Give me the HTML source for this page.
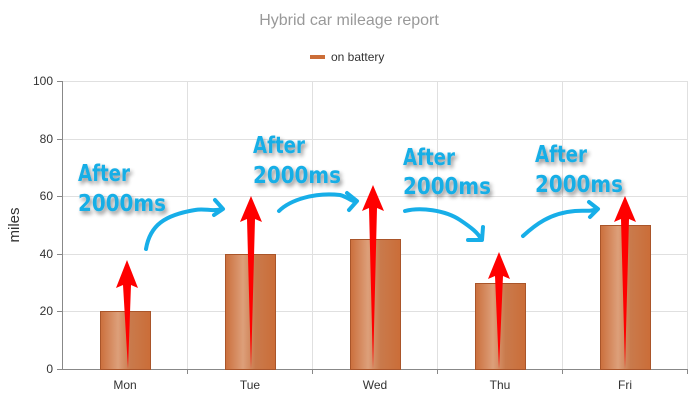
<!DOCTYPE html>
<html><head><meta charset="utf-8"><style>
html,body{margin:0;padding:0;background:#fff}
svg{display:block}
</style></head><body>
<svg width="699" height="400" viewBox="0 0 699 400" xmlns="http://www.w3.org/2000/svg" font-family="Liberation Sans, sans-serif">
<defs>
<linearGradient id="bg" x1="0" x2="1" y1="0" y2="0">
<stop offset="0" stop-color="#cb6f3c"/>
<stop offset="0.35" stop-color="#dd9f7a"/>
<stop offset="0.6" stop-color="#c97a4c"/>
<stop offset="1" stop-color="#cb6d38"/>
</linearGradient>
<filter id="sh" x="-20%" y="-20%" width="140%" height="140%"><feGaussianBlur in="SourceAlpha" stdDeviation="2"/><feOffset dx="2" dy="3"/><feComponentTransfer><feFuncA type="linear" slope="0.45"/></feComponentTransfer><feMerge><feMergeNode/><feMergeNode in="SourceGraphic"/></feMerge></filter>
</defs>
<text x="349" y="25" text-anchor="middle" font-size="16" fill="#999">Hybrid car mileage report</text>
<rect x="310" y="55" width="15" height="4" fill="#cb6d38"/>
<text x="331" y="61" font-size="12" fill="#333">on battery</text>
<g stroke="#e0e0e0" stroke-width="1">
<line x1="62" y1="81.5" x2="688" y2="81.5"/><line x1="62" y1="139.5" x2="688" y2="139.5"/><line x1="62" y1="196.5" x2="688" y2="196.5"/><line x1="62" y1="254.5" x2="688" y2="254.5"/><line x1="62" y1="311.5" x2="688" y2="311.5"/>
<line x1="187.5" y1="81" x2="187.5" y2="369"/><line x1="312.5" y1="81" x2="312.5" y2="369"/><line x1="437.5" y1="81" x2="437.5" y2="369"/><line x1="562.5" y1="81" x2="562.5" y2="369"/><line x1="687.5" y1="81" x2="687.5" y2="369"/>
</g>
<g stroke="#888"><line x1="62.5" y1="81" x2="62.5" y2="369"/><line x1="62" y1="369.5" x2="688" y2="369.5"/>
<line x1="57" y1="81.5" x2="62" y2="81.5"/><line x1="57" y1="139.5" x2="62" y2="139.5"/><line x1="57" y1="196.5" x2="62" y2="196.5"/><line x1="57" y1="254.5" x2="62" y2="254.5"/><line x1="57" y1="311.5" x2="62" y2="311.5"/><line x1="57" y1="369.5" x2="62" y2="369.5"/>
<line x1="187.5" y1="369" x2="187.5" y2="374"/><line x1="312.5" y1="369" x2="312.5" y2="374"/><line x1="437.5" y1="369" x2="437.5" y2="374"/><line x1="562.5" y1="369" x2="562.5" y2="374"/><line x1="687.5" y1="369" x2="687.5" y2="374"/></g>
<g font-size="12" fill="#333" text-anchor="end">
<text x="53" y="85">100</text><text x="53" y="143">80</text><text x="53" y="200">60</text><text x="53" y="258">40</text><text x="53" y="315">20</text><text x="53" y="373">0</text></g>
<text transform="translate(19,225) rotate(-90)" text-anchor="middle" font-size="15" fill="#333">miles</text>
<g font-size="12" fill="#333" text-anchor="middle">
<text x="125" y="389">Mon</text><text x="250" y="389">Tue</text><text x="375" y="389">Wed</text><text x="500" y="389">Thu</text><text x="625" y="389">Fri</text></g>
<g fill="url(#bg)" stroke="#a9552a" stroke-width="1">
<rect x="100.5" y="311.5" width="50" height="58"/>
<rect x="225.5" y="254.5" width="50" height="115"/>
<rect x="350.5" y="239.5" width="50" height="130"/>
<rect x="475.5" y="283.5" width="50" height="86"/>
<rect x="600.5" y="225.5" width="50" height="144"/>
</g>
<g fill="#ff0000">
<polygon points="127,260 116,288 123,285 128,369 131,285 138,288"/>
<polygon points="251,196 240,222 247,219 251,369 255,219 262,222"/>
<polygon points="373,185 362,211 369,208 373,369 377,208 384,211"/>
<polygon points="499,252 488,279 495,276 499,369 503,276 510,279"/>
<polygon points="625,196 614,222 621,219 625,369 629,219 636,222"/>
</g>
<g fill="none" stroke="#17aee8" stroke-width="4" stroke-linecap="round" stroke-linejoin="round">
<path d="M146,249 C150,225 165,215 195,210 C205,208 212,212 222,209 M215,200 L223,209 L214,215"/>
<path d="M279,211 C290,200 315,192 340,195 C348,197 352,202 356,201 M347,193 L357,201 L349,210"/>
<path d="M405,211 C420,207 445,210 460,220 C472,228 478,233 481,239 M483,227 L482,240 L468,240"/>
<path d="M523,236 C535,225 550,213 575,211 C585,210 590,212 597,209 M589,202 L598,209 L590,217"/>
</g>
<g font-family="DejaVu Sans, sans-serif" font-weight="bold" font-size="23" fill="#19aee6" filter="url(#sh)">
<text x="78" y="181" textLength="52" lengthAdjust="spacingAndGlyphs">After</text>
<text x="78" y="211" textLength="88" lengthAdjust="spacingAndGlyphs">2000ms</text>
<text x="253" y="153" textLength="52" lengthAdjust="spacingAndGlyphs">After</text>
<text x="253" y="183" textLength="88" lengthAdjust="spacingAndGlyphs">2000ms</text>
<text x="403" y="165" textLength="52" lengthAdjust="spacingAndGlyphs">After</text>
<text x="403" y="194" textLength="88" lengthAdjust="spacingAndGlyphs">2000ms</text>
<text x="535" y="162" textLength="52" lengthAdjust="spacingAndGlyphs">After</text>
<text x="535" y="192" textLength="88" lengthAdjust="spacingAndGlyphs">2000ms</text>
</g>
</svg>
</body></html>
